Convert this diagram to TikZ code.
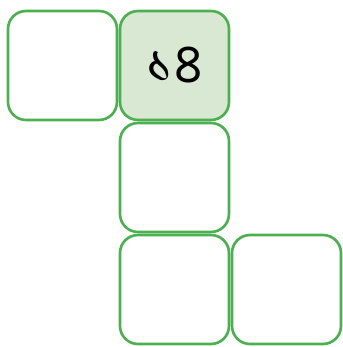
\documentclass[tikz,border=0pt]{standalone}
\usepackage{fontspec}
\newfontfamily\bengalifont[Script=Bengali]{Hind Siliguri}
\definecolor{cellgreen}{HTML}{4CAF50}
\definecolor{cellfill}{HTML}{D9E8D3}

\begin{document}
\begin{tikzpicture}[x=0.02cm, y=-0.02cm,
  every node/.style={rectangle, rounded corners=0.36cm, draw=cellgreen, line width=1.5pt,
    fill=white, minimum size=2.18cm, inner sep=0pt, font=\bengalifont\fontsize{31}{31}\selectfont}]
  \useasboundingbox (0,0) rectangle (342,347);
  % top row
  \node (c11) at (62.5,65.5) {};
  \node[fill=cellfill] (c12) at (174.5,65.5) {১৪};
  % column going down
  \node (c22) at (174.5,177.5) {};
  \node (c32) at (174.5,289.5) {};
  \node (c33) at (286.5,289.5) {};
\end{tikzpicture}
\end{document}
